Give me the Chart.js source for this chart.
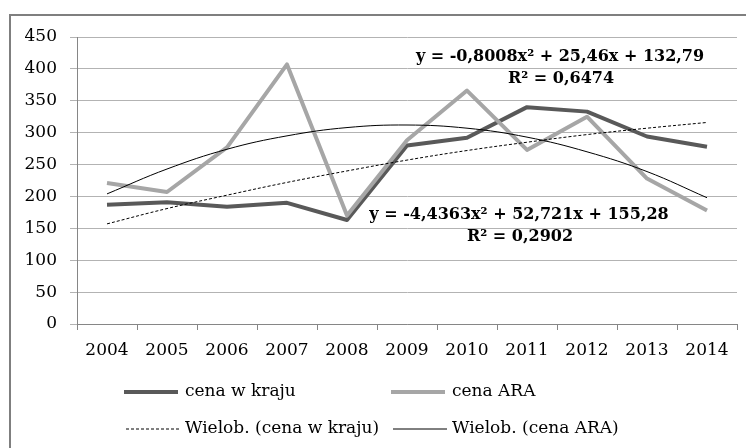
<!DOCTYPE html>
<html>
<head>
<meta charset="utf-8">
<script src="https://cdn.jsdelivr.net/npm/chart.js@4"></script>
<style>
  body { margin: 0; background: #fff; }
  canvas { display: block; }
</style>
</head>
<body>
<canvas id="chart" width="746" height="448"></canvas>
<script>
// years on the category axis
const years = ['2004', '2005', '2006', '2007', '2008', '2009', '2010', '2011', '2012', '2013', '2014'];
// prices
const cenaWKraju = [187, 191, 184, 190, 163, 280, 292, 340, 333, 294, 278];
const cenaARA = [221, 207, 277, 407, 170, 288, 366, 273, 325, 228, 178];
// polynomial trend lines (as drawn)
const trendWKraju = [157, 181, 202, 222, 240, 257, 272, 285, 297, 307, 316];
const trendARA = [204, 243, 274, 295, 308, 312, 307, 293, 270, 239, 198];
// equation labels
const eqWKraju = ['y = -0,8008x\u00B2 + 25,46x + 132,79', 'R\u00B2 = 0,6474'];
const eqARA = ['y = -4,4363x\u00B2 + 52,721x + 155,28', 'R\u00B2 = 0,2902'];
const legendNames = ['cena w kraju', 'cena ARA', 'Wielob. (cena w kraju)', 'Wielob. (cena ARA)'];

const DARK = '#595959';
const LIGHT = '#a6a6a6';
const serif = '"DejaVu Serif", serif';

// frame, trendline equations and legend drawn on top of the chart
const extras = {
    id: 'extras',
    beforeDraw(chart) {
        const ctx = chart.ctx;
        ctx.save();
        ctx.strokeStyle = '#7f7f7f';
        ctx.lineWidth = 2;
        ctx.strokeRect(10, 15, 800, 500);
        ctx.restore();
    },
    afterDraw(chart) {
        const ctx = chart.ctx;
        ctx.save();
        ctx.fillStyle = '#000';
        ctx.textAlign = 'center';
        ctx.textBaseline = 'middle';
        ctx.font = 'bold 16px ' + serif;
        ctx.fillText(eqWKraju[0], 560, 57);
        ctx.fillText(eqWKraju[1], 561, 79);
        ctx.fillText(eqARA[0], 519, 215);
        ctx.fillText(eqARA[1], 520, 237);

        // legend
        const items = [
            { x: 124, y: 392, w: 4, color: DARK, dash: [] },
            { x: 391, y: 392, w: 4, color: LIGHT, dash: [] },
            { x: 126, y: 429, w: 1, color: '#000', dash: [3, 2] },
            { x: 393, y: 429, w: 1, color: '#000', dash: [] }
        ];
        ctx.font = '17px ' + serif;
        ctx.textAlign = 'left';
        items.forEach((it, i) => {
            ctx.beginPath();
            ctx.setLineDash(it.dash);
            ctx.lineWidth = it.w;
            ctx.strokeStyle = it.color;
            ctx.moveTo(it.x, it.y);
            ctx.lineTo(it.x + 54, it.y);
            ctx.stroke();
            ctx.setLineDash([]);
            ctx.fillText(legendNames[i], it.x + (i < 2 ? 61 : 59), it.y);
        });
        ctx.restore();
    }
};

new Chart(document.getElementById('chart'), {
    type: 'line',
    data: {
        labels: years,
        datasets: [
            { label: legendNames[2], data: trendWKraju, borderColor: '#000', borderWidth: 1, borderDash: [3, 2], tension: 0.4, pointRadius: 0 },
            { label: legendNames[3], data: trendARA, borderColor: '#000', borderWidth: 1, tension: 0.4, pointRadius: 0 },
            { label: legendNames[1], data: cenaARA, borderColor: LIGHT, borderWidth: 4, borderJoinStyle: 'round', pointRadius: 0 },
            { label: legendNames[0], data: cenaWKraju, borderColor: DARK, borderWidth: 4, borderJoinStyle: 'round', pointRadius: 0 }
        ]
    },
    options: {
        responsive: false,
        animation: false,
        layout: { padding: { top: 37, right: 9, left: 0, bottom: 0 } },
        plugins: {
            legend: { display: false },
            tooltip: { enabled: false }
        },
        scales: {
            x: {
                offset: true,
                grid: { offset: true, drawOnChartArea: false, tickLength: 6, color: '#868686' },
                border: { color: '#868686' },
                ticks: { color: '#000', padding: 10, font: { family: serif, size: 17 } },
                afterFit(scale) { scale.height = 124; }
            },
            y: {
                min: 0,
                max: 450,
                grid: { color: '#b3b3b3', tickLength: 7 },
                border: { color: '#868686' },
                ticks: { stepSize: 50, color: '#000', padding: 13, font: { family: serif, size: 17 } },
                afterFit(scale) { scale.width = 77; }
            }
        }
    },
    plugins: [extras]
});
</script>
</body>
</html>
